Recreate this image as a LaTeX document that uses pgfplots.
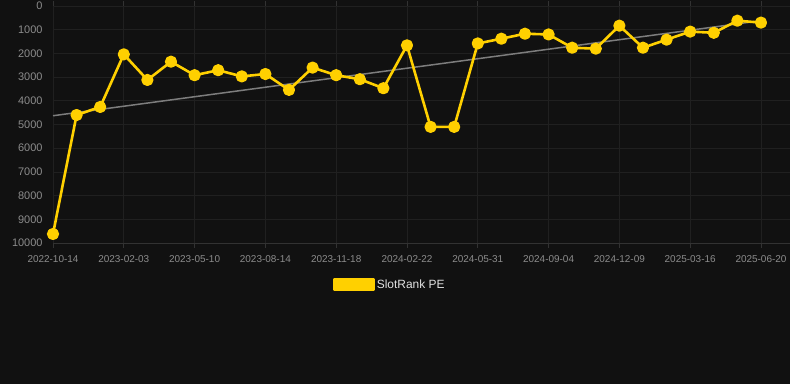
\documentclass[border=0pt]{standalone}
\usepackage{pgfplots}
\pgfplotsset{compat=1.18}
\usepackage{fontspec}
\setmainfont{Liberation Sans}
\definecolor{bgc}{RGB}{17,17,17}
\definecolor{gridc}{RGB}{32,32,32}
\definecolor{axc}{RGB}{50,50,50}
\definecolor{tickc}{RGB}{140,140,140}
\definecolor{yel}{RGB}{255,208,0}
\definecolor{trendc}{RGB}{125,125,125}
\definecolor{legc}{RGB}{225,225,225}
\begin{document}
\begin{tikzpicture}
\fill[bgc] (0,0) rectangle (790bp,384bp);
\useasboundingbox (0,0) rectangle (790bp,384bp);
\begin{axis}[
  at={(53bp,141bp)}, anchor=south west,
  scale only axis, width=737bp, height=237bp,
  xmin=0, xmax=31.23, ymin=0, ymax=10000, y dir=reverse,
  clip=false,
  axis line style={draw=none},
  grid=major, major grid style={draw=gridc, line width=0.8bp},
  xtick={0,3,...,30},
  xticklabels={2022-10-14,2023-02-03,2023-05-10,2023-08-14,2023-11-18,2024-02-22,2024-05-31,2024-09-04,2024-12-09,2025-03-16,2025-06-20},
  ytick={0,1000,...,10000},
  yticklabels={0,1000,2000,3000,4000,5000,6000,7000,8000,9000,10000},
  scaled y ticks=false,
  tick align=outside, major tick length=5bp,
  xtick style={draw=axc, line width=0.8bp},
  ytick style={draw=none},
  xticklabel style={font=\fontsize{10}{12}\selectfont, text=tickc, yshift=-4bp},
  yticklabel style={font=\fontsize{11}{13}\selectfont, text=tickc, xshift=-2bp},
  legend style={draw=none, fill=none, at={(0.38,-0.175)}, anchor=west,
    font=\fontsize{12}{14}\selectfont, text=legc, inner sep=0pt,
    /tikz/every even column/.append style={column sep=6bp}},
  legend image code/.code={\fill[yel] (0bp,-5.6bp) rectangle (39bp,5.6bp);},
]
\draw[axc, line width=0.8bp] (axis cs:0,10000) -- (axis cs:31.23,10000);
\addplot[trendc, line width=1.5bp, forget plot] coordinates {(0,4630) (30,620)};
\addplot[yel, line width=2.6bp, line join=round, mark=*, mark size=4.8bp, mark options={fill=yel, draw=none}] coordinates {
(0,9620) (1,4600) (2,4260) (3,2040) (4,3120) (5,2350) (6,2920) (7,2710) (8,2970) (9,2870)
(10,3540) (11,2600) (12,2920) (13,3090) (14,3470) (15,1660) (16,5100) (17,5100) (18,1580) (19,1380)
(20,1170) (21,1200) (22,1760) (23,1800) (24,830) (25,1760) (26,1420) (27,1080) (28,1130) (29,620) (30,700)};
\addlegendentry{SlotRank PE}
\end{axis}
\end{tikzpicture}
\end{document}
